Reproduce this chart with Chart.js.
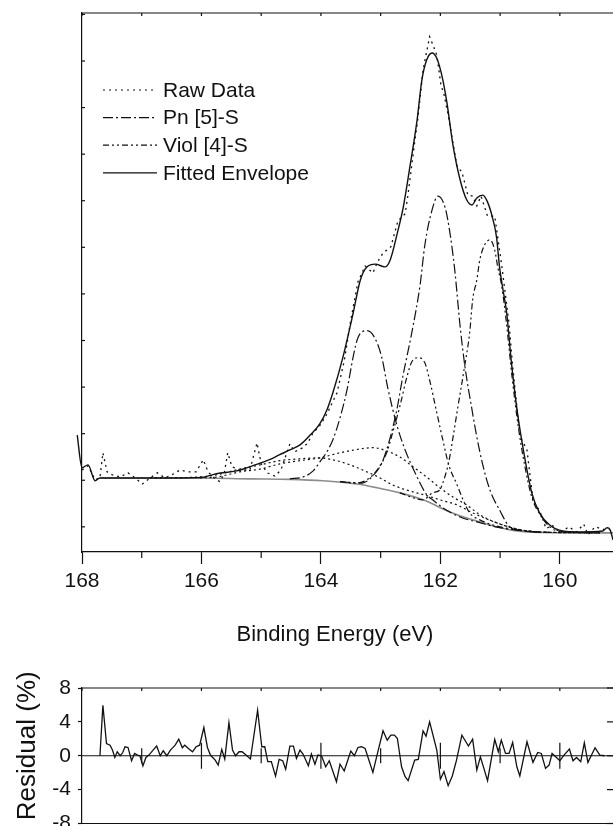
<!DOCTYPE html>
<html>
<head>
<meta charset="utf-8">
<title>S 2p fit</title>
<script src="https://cdn.jsdelivr.net/npm/chart.js@4/dist/chart.umd.min.js"></script>
<style>
  html, body { margin: 0; padding: 0; background: #fff; }
  #wrap { position: relative; width: 613px; height: 826px; overflow: hidden; }
  .pane { position: absolute; left: 0; width: 613px; }
</style>
</head>
<body>
<div id="wrap">
  <div class="pane" style="top:0;height:655px"><canvas id="main" width="613" height="655"></canvas></div>
  <div class="pane" style="top:655px;height:195px"><canvas id="resid" width="613" height="195"></canvas></div>
</div>
<script>
/* --- data (binding energy in eV, intensity in arbitrary units) ----------- */
const xMajor = [168, 166, 164, 162, 160];
const xMinor = [167, 165, 163, 161];
const intensityTicks = [0, 1, 2, 3, 4, 5, 6, 7, 8, 9, 10, 11];
const residTicks = [-8, -4, 0, 4, 8];

const envE = [168.08, 168.00, 167.90, 167.78, 167.70, 167.00, 166.50, 166.00, 165.75, 165.41, 165.10, 164.85,
  164.69, 164.52, 164.35, 164.18, 164.02, 163.90, 163.80, 163.63, 163.46, 163.34, 163.23, 163.09, 162.93, 162.84,
  162.72, 162.62, 162.51, 162.39, 162.31, 162.23, 162.14, 162.06, 161.97, 161.89, 161.79, 161.67, 161.56, 161.47,
  161.39, 161.29, 161.21, 161.13, 161.06, 161.01, 160.96, 160.89, 160.81, 160.71, 160.59, 160.47, 160.34, 160.17,
  159.95, 159.67, 159.28, 159.21, 159.16, 159.11];
const envI = [1.97, 1.27, 1.33, 0.99, 1.05, 1.05, 1.05, 1.06, 1.14, 1.20, 1.33, 1.45,
  1.55, 1.65, 1.76, 1.97, 2.21, 2.51, 2.88, 3.65, 4.59, 5.30, 5.58, 5.64, 5.58, 5.73,
  6.31, 6.87, 7.73, 8.73, 9.59, 10.02, 10.17, 10.06, 9.66, 9.10, 8.20, 7.45, 7.02, 6.91,
  7.06, 7.12, 6.97, 6.65, 6.22, 5.58, 5.15, 4.59, 3.52, 2.45, 1.50, 0.73, 0.30, 0.04,
  -0.09, -0.11, -0.09, -0.02, -0.06, -0.28];

const rawE = [168.00, 167.90, 167.78, 167.70, 167.65, 167.58, 167.50, 167.36, 167.23, 167.11, 166.99, 166.86,
  166.74, 166.61, 166.49, 166.36, 166.23, 166.09, 165.97, 165.89, 165.77, 165.69, 165.62, 165.56, 165.49, 165.36,
  165.19, 165.07, 165.00, 164.90, 164.77, 164.67, 164.52, 164.44, 164.30, 164.22, 164.13, 164.02, 163.90, 163.73,
  163.61, 163.50, 163.38, 163.26, 163.13, 163.05, 162.96, 162.83, 162.71, 162.59, 162.54, 162.43, 162.38, 162.29,
  162.18, 162.13, 162.06, 161.99, 161.94, 161.87, 161.81, 161.72, 161.64, 161.54, 161.46, 161.39, 161.32, 161.21,
  161.09, 160.97, 160.85, 160.79, 160.67, 160.55, 160.45, 160.33, 160.23, 160.13, 160.00, 159.85, 159.72, 159.60,
  159.53, 159.41, 159.25, 159.16];
const rawI = [1.22, 1.31, 1.01, 1.05, 1.59, 1.18, 1.12, 1.07, 1.16, 1.05, 0.92, 1.05,
  1.16, 1.05, 1.12, 1.22, 1.18, 1.18, 1.44, 1.18, 1.03, 0.97, 1.14, 1.59, 1.29, 1.22,
  1.22, 1.80, 1.35, 1.16, 1.09, 1.22, 1.78, 1.61, 1.70, 1.80, 2.02, 2.17, 2.42, 2.88,
  3.56, 4.44, 5.26, 5.60, 5.45, 5.69, 5.88, 6.01, 6.57, 6.72, 7.15, 8.26, 8.73, 9.81,
  10.52, 10.36, 10.13, 9.48, 9.29, 8.84, 8.39, 7.73, 7.62, 7.12, 7.10, 6.89, 7.10, 6.67,
  6.67, 5.58, 4.36, 3.45, 1.95, 1.65, 0.58, 0.32, -0.04, 0.04, -0.13, 0.00, -0.11, 0.06,
  -0.17, 0.00, -0.06, -0.06];

// Pn [5]-S doublet
const pn32E = [163.68, 163.31, 163.15, 162.98, 162.85, 162.73, 162.63, 162.48, 162.34, 162.26, 162.14, 162.04,
  161.92, 161.84, 161.76, 161.67, 161.59, 161.47, 161.39, 161.29, 161.17, 161.00, 160.84, 160.59, 160.17];
const pn32I = [0.97, 0.94, 1.07, 1.37, 1.87, 2.51, 3.22, 4.16, 5.19, 6.05, 6.80, 7.10,
  6.85, 6.31, 5.52, 4.31, 3.45, 2.51, 1.93, 1.33, 0.79, 0.34, 0.00, -0.09, -0.12];
const pn12E = [164.52, 164.30, 164.13, 164.02, 163.90, 163.80, 163.68, 163.56, 163.46, 163.38, 163.23, 163.10,
  162.98, 162.88, 162.73, 162.59, 162.39, 162.23, 162.13, 161.96, 161.67, 161.34, 161.00, 160.33];
const pn12I = [1.03, 1.07, 1.20, 1.39, 1.61, 1.87, 2.34, 2.96, 3.65, 4.06, 4.21, 4.06,
  3.63, 2.98, 2.19, 1.65, 1.07, 0.69, 0.58, 0.41, 0.21, 0.09, -0.02, -0.12];

// Viol [4]-S doublet
const viol32E = [162.68, 162.29, 162.13, 162.01, 161.96, 161.86, 161.79, 161.71, 161.59, 161.51, 161.46, 161.39,
  161.34, 161.26, 161.17, 161.09, 161.04, 160.97, 160.89, 160.80, 160.70, 160.59, 160.47, 160.33, 160.17, 159.95, 159.33];
const viol32I = [0.73, 0.58, 0.73, 0.79, 0.94, 1.39, 1.91, 2.55, 3.48, 4.16, 4.87, 5.30,
  5.73, 6.05, 6.16, 5.94, 5.58, 5.15, 4.33, 3.22, 2.19, 1.33, 0.64, 0.26, 0.00, -0.11, -0.13];
const viol12E = [163.68, 163.40, 163.23, 163.06, 162.90, 162.80, 162.68, 162.56, 162.48, 162.38, 162.26, 162.18,
  162.06, 161.96, 161.86, 161.72, 161.62, 161.51, 161.34, 161.00, 160.33];
const viol12I = [0.97, 0.94, 1.01, 1.22, 1.59, 2.02, 2.58, 3.22, 3.54, 3.63, 3.52, 3.15,
  2.45, 1.87, 1.33, 0.90, 0.58, 0.30, 0.15, 0.00, -0.12];

// broad minor components (not in legend)
const broad1E = [166.03, 165.74, 165.36, 165.02, 164.69, 164.35, 164.02, 163.68, 163.35, 163.13, 162.90, 162.68,
  162.46, 162.23, 162.01, 161.79, 161.56, 161.34, 161.00, 160.67, 160.33, 159.33];
const broad1I = [1.05, 1.07, 1.18, 1.24, 1.35, 1.42, 1.48, 1.59, 1.67, 1.70, 1.63, 1.50,
  1.29, 1.07, 0.84, 0.64, 0.47, 0.26, 0.06, -0.06, -0.11, -0.13];
const broad2E = [166.86, 166.03, 165.74, 165.36, 165.02, 164.69, 164.35, 164.02, 163.80, 163.51, 163.23, 163.01,
  162.80, 162.46, 162.23, 162.01, 161.72, 161.46, 161.00, 160.67, 160.33, 159.33];
const broad2I = [1.05, 1.07, 1.12, 1.24, 1.33, 1.42, 1.46, 1.48, 1.44, 1.33, 1.18, 1.05,
  0.90, 0.75, 0.67, 0.58, 0.47, 0.30, 0.06, -0.06, -0.11, -0.13];

const bkgE = [167.70, 166.03, 165.19, 164.52, 163.97, 163.40, 163.06, 162.68, 162.29, 161.84, 161.46, 161.00,
  160.72, 160.33, 159.33, 159.11];
const bkgI = [1.05, 1.05, 1.03, 1.02, 0.99, 0.92, 0.84, 0.73, 0.58, 0.32, 0.15, -0.02,
  -0.09, -0.12, -0.13, -0.13];

// residual (%)
const resE = [167.70, 167.65, 167.59, 167.53, 167.49, 167.45, 167.41, 167.36, 167.32, 167.28, 167.23, 167.17,
  167.12, 167.07, 167.03, 166.98, 166.93, 166.88, 166.81, 166.75, 166.69, 166.64, 166.58, 166.52, 166.44, 166.38,
  166.32, 166.28, 166.22, 166.15, 166.09, 166.03, 165.96, 165.90, 165.85, 165.77, 165.72, 165.66, 165.61, 165.54,
  165.48, 165.43, 165.37, 165.32, 165.24, 165.18, 165.06, 164.99, 164.94, 164.89, 164.83, 164.76, 164.70, 164.64,
  164.59, 164.52, 164.46, 164.41, 164.35, 164.30, 164.21, 164.16, 164.10, 164.05, 163.99, 163.92, 163.86, 163.74,
  163.68, 163.61, 163.50, 163.44, 163.38, 163.32, 163.26, 163.13, 163.04, 162.96, 162.89, 162.83, 162.77, 162.72,
  162.65, 162.59, 162.54, 162.43, 162.37, 162.29, 162.24, 162.18, 162.06, 162.00, 161.94, 161.87, 161.80, 161.73,
  161.64, 161.53, 161.46, 161.39, 161.33, 161.21, 161.09, 161.03, 160.98, 160.91, 160.85, 160.79, 160.72, 160.67,
  160.55, 160.45, 160.37, 160.31, 160.24, 160.18, 160.13, 160.07, 160.00, 159.93, 159.84, 159.78, 159.72, 159.65,
  159.59, 159.53, 159.41, 159.33, 159.25];
const resV = [0, 5.96, 1.45, 1.25, 0.67, -0.2, 0.47, 0, 0.35, 1.06, 0.98, -0.59,
  0.27, 0.08, 0, -1.2, -0.2, 0.08, 0.67, 1.14, 0, 0.59, 0, 0.67, 1.25, 1.96,
  0.94, 1.25, 0.86, 0.47, 1.06, 1.25, 3.33, 0.98, 0.08, -0.51, -1.1, 0.75, -0.39, 3.92,
  0.67, 0, 0.47, 0.47, 0, -0.39, 5.37, 1.06, 1.06, -0.7, -0.7, -2.4, -0.43, -0.59,
  -1.6, 1.14, 1.14, -0.31, 0.67, 0.2, -1.18, 0.2, -1.0, 0.08, 0, -1.3, -0.59, -3.06,
  -1.0, -1.8, 0.55, 0, 0.98, 1.06, 0.86, -1.96, 0.67, 2.94, 1.84, 2.43, 2.43, 2.04,
  -1.3, -2.47, -2.94, -0.51, -0.43, 2.94, 2.31, 4.0, 0.67, -2.78, -1.88, -3.53, -2.39, -0.51,
  2.43, 1.14, 1.96, -1.69, -0.12, -2.94, 1.92, 0.47, 1.84, 0.27, 0.27, 1.57, -1.3, -2.39,
  1.65, -0.78, 0.39, 0.27, -1.49, -1.1, 0.27, -0.12, -0.59, 0.08, 0.78, -0.59, -0.2, -0.71,
  1.53, -0.78, 0.94, 0.08, 0];

/* --- helpers ------------------------------------------------------------- */
const INK = '#111';
const FONT = "'Liberation Sans', Arial, Helvetica, sans-serif";
Chart.defaults.font.family = FONT;
Chart.defaults.color = INK;

const toPoints = (xs, ys) => xs.map((v, i) => ({ x: v, y: ys[i] }));

function seg(ctx, x1, y1, x2, y2) {
    ctx.beginPath();
    ctx.moveTo(x1, y1);
    ctx.lineTo(x2, y2);
    ctx.stroke();
}

const DASH = {
    raw: [2, 4],
    pn: [10, 3, 2, 3],
    viol: [6, 3, 2, 3, 2, 3],
    broad: [2, 3]
};

function curve(label, xs, ys, dash, extra) {
    return Object.assign({
        label,
        data: toPoints(xs, ys),
        borderColor: INK,
        borderWidth: 1.2,
        borderDash: dash,
        cubicInterpolationMode: 'monotone',
        pointRadius: 0,
        fill: false
    }, extra || {});
}

/* frame, inward ticks, axis title and legend of the spectrum */
const mainFrame = {
    id: 'mainFrame',
    afterDraw(chart) {
        const { ctx, chartArea: a, scales: { x, y } } = chart;
        ctx.save();
        ctx.strokeStyle = INK;
        ctx.lineWidth = 1.2;
        seg(ctx, a.left, a.top, a.right, a.top);
        [...xMajor, ...xMinor].forEach(v => {
            const px = x.getPixelForValue(v);
            seg(ctx, px, a.top, px, a.top + 3);
        });
        xMinor.forEach(v => {
            const px = x.getPixelForValue(v);
            seg(ctx, px, a.bottom, px, a.bottom + 6);
        });
        intensityTicks.forEach(v => {
            const py = y.getPixelForValue(v);
            seg(ctx, a.left, py, a.left + 3, py);
        });

        ctx.fillStyle = INK;
        ctx.font = '22px ' + FONT;
        ctx.textAlign = 'center';
        ctx.textBaseline = 'middle';
        ctx.fillText('Binding Energy (eV)', 335, 635);

        // legend
        ctx.font = '21px ' + FONT;
        ctx.textAlign = 'left';
        const rows = chart.data.datasets
            .filter(d => d.legendRow !== undefined)
            .sort((p, q) => p.legendRow - q.legendRow);
        rows.forEach((d, i) => {
            const yy = 90 + i * 27.6;
            ctx.setLineDash(d.borderDash || []);
            ctx.lineWidth = 1.2;
            seg(ctx, 103, yy, 157, yy);
            ctx.setLineDash([]);
            ctx.fillText(d.label, 163, yy + 1);
        });
        ctx.restore();
    }
};

/* frame, zero axis with cross ticks and y title of the residual panel */
const residFrame = {
    id: 'residFrame',
    afterDraw(chart) {
        const { ctx, chartArea: a, scales: { x, y } } = chart;
        ctx.save();
        ctx.strokeStyle = INK;
        ctx.lineWidth = 1.2;
        seg(ctx, a.left, a.top, a.right, a.top);
        seg(ctx, a.left, a.bottom, a.right, a.bottom);
        const y0 = y.getPixelForValue(0);
        seg(ctx, a.left, y0, a.right, y0);
        [...xMajor, ...xMinor].forEach(v => {
            const px = x.getPixelForValue(v);
            seg(ctx, px, a.top, px, a.top + 3);
        });
        xMajor.forEach(v => {
            const px = x.getPixelForValue(v);
            if (px > a.left + 1) seg(ctx, px, y0 - 13, px, y0 + 13);
        });
        xMinor.forEach(v => {
            const px = x.getPixelForValue(v);
            seg(ctx, px, y0 - 7.5, px, y0 + 7.5);
        });
        residTicks.forEach(v => {
            const py = y.getPixelForValue(v);
            seg(ctx, a.right - 6, py, a.right, py);
        });

        // y title, centred a little above the panel middle as in the source
        ctx.fillStyle = INK;
        ctx.font = '26px ' + FONT;
        ctx.textAlign = 'center';
        ctx.textBaseline = 'middle';
        ctx.translate(28, (a.top + a.bottom) / 2 - 10);
        ctx.rotate(-Math.PI / 2);
        ctx.fillText('Residual (%)', 0, 0);
        ctx.restore();
    }
};

/* --- charts -------------------------------------------------------------- */
new Chart(document.getElementById('main'), {
    type: 'line',
    data: {
        datasets: [
            curve('Fitted Envelope', envE, envI, [], { borderWidth: 1.4, clip: false, legendRow: 3 }),
            curve('Raw Data', rawE, rawI, DASH.raw, { cubicInterpolationMode: 'default', tension: 0, borderWidth: 1.3, legendRow: 0 }),
            curve('Pn [5]-S', pn32E, pn32I, DASH.pn, { legendRow: 1 }),
            curve('Pn [5]-S', pn12E, pn12I, DASH.pn),
            curve('Viol [4]-S', viol32E, viol32I, DASH.viol, { legendRow: 2 }),
            curve('Viol [4]-S', viol12E, viol12I, DASH.viol),
            curve('S broad 1', broad1E, broad1I, DASH.broad),
            curve('S broad 2', broad2E, broad2I, DASH.broad),
            curve('Background', bkgE, bkgI, [], { borderColor: '#8c8c8c', borderWidth: 1.6 })
        ]
    },
    options: {
        responsive: false,
        animation: false,
        layout: { padding: { top: 13, right: 0, bottom: 0, left: 0 } },
        plugins: { legend: { display: false }, tooltip: { enabled: false } },
        scales: {
            x: {
                type: 'linear',
                reverse: true,
                min: 159.11,
                max: 168,
                afterBuildTicks: s => { s.ticks = xMajor.map(v => ({ value: v })); },
                afterFit: s => { s.height = 103; },
                grid: { drawOnChartArea: false, tickLength: 12, tickColor: INK, tickWidth: 1.2 },
                border: { color: INK, width: 1.2 },
                ticks: { color: INK, font: { size: 21 }, padding: 5, maxRotation: 0, autoSkip: false }
            },
            y: {
                type: 'linear',
                min: -0.54,
                max: 11.03,
                afterBuildTicks: s => { s.ticks = intensityTicks.map(v => ({ value: v })); },
                afterFit: s => { s.width = 82; },
                grid: { drawOnChartArea: false, drawTicks: false },
                border: { color: INK, width: 1.2 },
                ticks: { display: false }
            }
        }
    },
    plugins: [mainFrame]
});

new Chart(document.getElementById('resid'), {
    type: 'line',
    data: {
        datasets: [{
            label: 'Residual',
            data: toPoints(resE, resV),
            borderColor: INK,
            borderWidth: 1.3,
            tension: 0,
            pointRadius: 0,
            fill: false
        }]
    },
    options: {
        responsive: false,
        animation: false,
        // canvas runs past the page bottom so the -8 label keeps its room
        layout: { padding: { top: 33, right: 0, bottom: 26.5, left: 0 } },
        plugins: { legend: { display: false }, tooltip: { enabled: false } },
        scales: {
            x: { type: 'linear', display: false, reverse: true, min: 159.11, max: 168 },
            y: {
                type: 'linear',
                min: -8,
                max: 8,
                afterBuildTicks: s => { s.ticks = residTicks.map(v => ({ value: v })); },
                afterFit: s => { s.width = 82; },
                grid: { drawOnChartArea: false, tickLength: 4, tickColor: INK, tickWidth: 1.2 },
                border: { color: INK, width: 1.2 },
                ticks: { color: INK, font: { size: 21 }, padding: 7 }
            }
        }
    },
    plugins: [residFrame]
});
</script>
</body>
</html>
